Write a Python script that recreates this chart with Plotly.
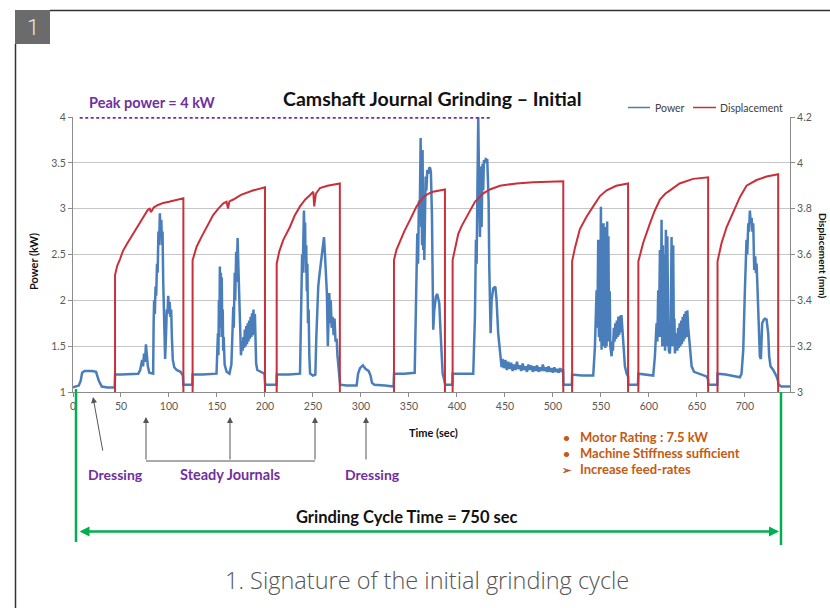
import plotly.graph_objects as go

# ---------------- data ----------------
x_tick_vals = [0, 50, 100, 150, 200, 250, 300, 350, 400, 450, 500, 550, 600, 650, 700]
power_tick_vals = [1, 1.5, 2, 2.5, 3, 3.5, 4]
disp_tick_vals = [3, 3.2, 3.4, 3.6, 3.8, 4, 4.2]
disp_tick_text = ["3", "3.2", "3.4", "3.6", "3.8", "4", "4.2"]

peak_line_t = [7, 436]
peak_line_kw = [4, 4]

# Power (kW) samples: (time s, power kW)
power_pre = [(0, 1.05), (3, 1.06), (6, 1.07), (8, 1.12), (9.5, 1.21), (12, 1.23), (20, 1.23),
             (24, 1.22), (27, 1.12), (30, 1.06), (36, 1.05), (43.4, 1.05)]
power_c1 = [(43.8, 1.19), (50, 1.19), (60, 1.2), (68, 1.2), (70, 1.24), (72, 1.35), (73, 1.28),
            (74, 1.42), (75, 1.33), (76, 1.52), (77, 1.4), (78, 1.28), (79.5, 1.21), (83.5, 1.2),
            (84, 1.75), (84.5, 2.0), (85.3, 1.85), (86, 2.15), (86.7, 2.05), (87.5, 2.4), (88.2, 2.3),
            (89, 2.75), (89.7, 2.6), (90.5, 2.95), (91.2, 2.7), (92, 2.88), (92.7, 2.6), (93.3, 2.75),
            (94, 2.2), (94.7, 1.8), (95.5, 1.5), (96, 1.36), (97, 1.65), (97.7, 1.9), (98.5, 1.85),
            (99.2, 2.05), (100, 1.9), (100.7, 1.98), (101.5, 1.82), (102.3, 1.9), (103, 1.6),
            (104, 1.35), (105.5, 1.27), (108, 1.24), (112, 1.22), (114.5, 1.18)]
power_gap1 = [(115, 1.08), (124.3, 1.08)]
power_c2 = [(124.6, 1.19), (135, 1.19), (149.5, 1.2), (150.5, 1.45), (151, 1.64), (151.5, 1.4),
            (152, 2.0), (152.5, 1.6), (153, 2.37), (153.5, 1.7), (154, 2.3), (154.5, 1.8), (155, 2.25),
            (155.5, 1.6), (156, 1.9), (156.5, 1.45), (157, 1.6), (158, 1.3), (160, 1.22), (163, 1.2),
            (165, 1.3), (166, 1.6), (167, 1.93), (167.5, 1.7), (168.5, 2.3), (169, 2.0), (170, 2.53),
            (170.5, 2.2), (171.5, 2.68), (172.5, 2.3), (173.5, 2.0), (174.5, 1.6), (175, 1.4),
            (176, 1.55), (176.7, 1.45), (177.5, 1.6), (178.3, 1.48), (179, 1.68), (179.8, 1.5),
            (180.5, 1.72), (181.3, 1.52), (182, 1.75), (182.8, 1.55), (183.5, 1.78), (184.3, 1.58),
            (185, 1.82), (185.8, 1.6), (186.5, 1.86), (187.3, 1.62), (188, 1.9), (188.7, 1.7),
            (189.5, 1.85), (190.3, 1.5), (190.8, 1.31), (192, 1.24), (196, 1.22), (199.5, 1.2)]
power_gap2 = [(200.2, 1.08), (212, 1.08)]
power_c3 = [(212.3, 1.19), (225, 1.19), (236.5, 1.2), (237.2, 1.6), (238, 2.0), (238.7, 2.5),
            (239.3, 2.3), (240, 2.85), (240.6, 2.98), (241.2, 2.7), (241.8, 2.85), (242.4, 2.3),
            (243, 2.6), (243.6, 2.1), (244.2, 2.4), (244.8, 1.75), (245.5, 1.9), (246.2, 1.4),
            (247, 1.2), (250, 1.18), (252.5, 1.19), (253.5, 1.6), (254.5, 1.9), (255.5, 2.15),
            (257, 2.3), (259, 2.48), (260, 2.55), (261.5, 2.69), (262.5, 2.5), (263.5, 2.3),
            (264.5, 2.08), (265.5, 1.5), (266.3, 1.9), (267, 2.08), (268, 1.75), (268.5, 2.0),
            (269.5, 1.7), (270.5, 1.82), (271.5, 1.62), (272.5, 1.8), (273.5, 1.55), (274.7, 1.58),
            (275.5, 1.4), (276.4, 1.3), (277.5, 1.15)]
power_dress2 = [(278.3, 1.08), (285, 1.07), (295.5, 1.07), (297, 1.2), (299, 1.26), (302, 1.29),
                (305, 1.25), (308, 1.23), (310, 1.18), (311.5, 1.1), (314, 1.08), (325, 1.07),
                (334, 1.06)]
power_c4 = [(334.5, 1.2), (345, 1.2), (356, 1.21), (357.3, 1.93), (358.7, 2.73), (359.5, 2.4),
            (360.4, 3.09), (361.2, 2.9), (362.2, 3.77), (362.8, 2.8), (363.2, 3.09), (363.7, 2.6),
            (364.2, 3.64), (364.9, 2.55), (365.5, 2.9), (366, 2.44), (366.7, 3.0), (367.4, 3.35),
            (368.2, 3.2), (369.1, 3.42), (370, 3.38), (371.2, 3.45), (372.2, 3.44), (372.9, 3.39),
            (374, 2.91), (374.7, 2.08), (375.3, 1.68), (376.4, 1.89), (378.1, 2.04), (379.5, 2.07),
            (380.5, 2.02), (381.6, 1.97), (383, 1.64), (384, 1.35), (385.1, 1.2), (387, 1.12)]
power_gap4 = [(387.8, 1.08), (395.2, 1.08)]
power_c5 = [(395.5, 1.2), (405, 1.2), (417, 1.2), (418.75, 1.82), (419.8, 2.66), (420.5, 2.4),
            (421.2, 3.09), (421.7, 2.9), (422.2, 4.0), (422.8, 3.5), (423.3, 3.24), (424, 2.69),
            (424.5, 3.1), (425, 3.46), (425.7, 2.8), (426.7, 3.49), (427.4, 3.2), (428.1, 3.53),
            (429, 3.5), (430, 3.54), (431.6, 3.53), (432.3, 3.35), (433, 3.09), (433.7, 2.36),
            (434.4, 1.93), (435.1, 1.64), (436.1, 2.0), (437.8, 2.13), (440, 2.15), (441.3, 2.0),
            (443, 1.64), (444.8, 1.42), (446.5, 1.27), (447.5, 1.36), (449, 1.26), (450.5, 1.35),
            (452, 1.24), (453.5, 1.33), (455, 1.25), (456.5, 1.32), (458, 1.23), (459.5, 1.3),
            (461, 1.24), (462.5, 1.33), (464, 1.25), (465.5, 1.29), (467, 1.23), (468.5, 1.31),
            (470, 1.24), (471.5, 1.28), (473, 1.22), (474.5, 1.3), (476, 1.24), (477.5, 1.29),
            (479, 1.22), (480.5, 1.28), (482, 1.23), (483.5, 1.29), (485, 1.22), (486.5, 1.27),
            (488, 1.23), (489.5, 1.3), (491, 1.23), (492.5, 1.27), (494, 1.22), (495.5, 1.28),
            (497, 1.22), (498.5, 1.26), (500, 1.21), (501.5, 1.27), (503, 1.22), (504.5, 1.25),
            (506, 1.21), (507.5, 1.26), (509, 1.22), (510.5, 1.25)]
power_gap5 = [(511, 1.08), (519.8, 1.08)]
power_c6 = [(520, 1.19), (530, 1.18), (542, 1.18), (543.75, 1.49), (544.5, 1.8), (545.5, 2.11),
            (546.3, 1.7), (547.2, 2.66), (547.9, 1.6), (548.5, 2.5), (549.2, 1.55), (550, 3.02),
            (550.7, 1.46), (551.4, 2.75), (552, 1.5), (552.7, 2.84), (553.3, 1.5), (554, 2.6),
            (554.6, 1.48), (555.2, 2.8), (555.9, 1.5), (556.5, 2.86), (557.2, 1.55), (557.8, 2.7),
            (558.5, 1.6), (559.2, 2.1), (559.8, 1.5), (560.5, 1.42), (561.1, 1.39), (562, 1.55),
            (562.5, 1.45), (563.5, 1.7), (564.2, 1.55), (565, 1.75), (565.8, 1.58), (566.6, 1.78),
            (567.4, 1.6), (568.2, 1.82), (569, 1.62), (569.8, 1.83), (570.6, 1.65), (571.4, 1.84),
            (572.2, 1.7), (573.3, 1.55), (574.2, 1.4), (575, 1.28), (576.8, 1.2), (578.3, 1.17)]
power_gap6 = [(578.6, 1.08), (588.6, 1.08)]
power_c7 = [(589, 1.2), (600, 1.18), (604.5, 1.18), (606.25, 1.39), (607, 1.6), (608, 1.75),
            (608.8, 1.55), (609.7, 2.11), (610.4, 1.6), (611.5, 2.55), (612.2, 1.6), (613.2, 2.88),
            (613.9, 1.5), (614.6, 2.6), (615.3, 1.5), (616, 2.5), (616.8, 1.45), (617.7, 2.77),
            (618.4, 1.5), (619.2, 2.7), (620.1, 1.75), (620.8, 1.45), (621.9, 1.42), (622.7, 1.7),
            (623.6, 2.69), (624.3, 1.5), (625.3, 2.6), (626, 1.6), (626.6, 1.8), (627.1, 1.42),
            (628, 1.55), (628.8, 1.64), (629.6, 1.45), (630.4, 1.7), (631.2, 1.48), (632, 1.75),
            (632.8, 1.5), (633.6, 1.78), (634.4, 1.52), (635.2, 1.82), (636, 1.55), (636.8, 1.85),
            (637.6, 1.58), (638.4, 1.88), (639.2, 1.6), (640, 1.89), (641, 1.7), (642.7, 1.45),
            (644.5, 1.28), (647, 1.22), (652, 1.2), (660, 1.17), (661.6, 1.14)]
power_gap7 = [(661.9, 1.08), (671.3, 1.08)]
power_c8 = [(671.5, 1.2), (680, 1.19), (690, 1.17), (694.8, 1.16), (696.5, 1.2), (698.3, 1.46),
            (700, 2.11), (701.7, 2.66), (702.5, 2.5), (703.5, 2.84), (704.3, 2.75), (705.2, 2.98),
            (706, 2.85), (707, 2.9), (707.8, 2.75), (708.7, 2.84), (709.7, 2.33), (710.8, 2.48),
            (711.5, 2.3), (712.2, 2.4), (713.2, 2.11), (714.6, 1.64), (715.6, 1.39), (716.7, 1.36),
            (718, 1.75), (719.8, 1.79), (721, 1.8), (722.6, 1.79), (724.3, 1.64), (725.3, 1.39),
            (726.7, 1.28), (729.5, 1.24), (733, 1.17), (734.5, 1.12)]
power_post = [(735, 1.08), (738, 1.06), (747, 1.06)]

# Displacement (mm) samples: (time s, displacement mm); 2.97 = below axis (retracted)
disp_pre = [(0, 2.97), (43.8, 2.97)]
disp_c1 = [(43.8, 3.51), (46, 3.55), (49, 3.58), (52, 3.615), (56, 3.645), (62.5, 3.69), (70, 3.745),
           (75, 3.78), (78, 3.795), (80, 3.8), (81, 3.785), (82, 3.79), (84, 3.805), (88, 3.815),
           (94, 3.825), (100, 3.83), (105, 3.835), (110, 3.84), (115, 3.845)]
disp_gap1 = [(115, 2.97), (124.6, 2.97)]
disp_c2 = [(124.6, 3.575), (128.8, 3.634), (134, 3.678), (139.2, 3.72), (146, 3.772), (151.4, 3.8),
           (156.6, 3.823), (160, 3.83), (161.5, 3.8), (163, 3.832), (167, 3.84), (175, 3.86),
           (188, 3.88), (200, 3.893)]
disp_gap2 = [(200, 2.97), (212.2, 2.97)]
disp_c3 = [(212.2, 3.56), (215, 3.615), (219, 3.663), (226, 3.72), (231, 3.77), (236.5, 3.81),
           (242, 3.84), (247, 3.86), (250.3, 3.874), (251.3, 3.81), (253, 3.865), (257.3, 3.89),
           (265, 3.9), (278, 3.91)]
disp_gap3 = [(278, 2.97), (334.4, 2.97)]
disp_c4 = [(334.4, 3.576), (337, 3.62), (340.6, 3.66), (345, 3.7), (351, 3.75), (358, 3.81),
           (365, 3.85), (370, 3.865), (375, 3.874), (381, 3.88), (387.5, 3.884)]
disp_gap4 = [(387.5, 2.97), (395.5, 2.97)]
disp_c5 = [(395.5, 3.576), (398, 3.63), (401.4, 3.69), (405, 3.725), (410, 3.765), (418.75, 3.83),
           (427.4, 3.867), (435, 3.885), (444.8, 3.9), (462, 3.91), (479.5, 3.915), (495, 3.918),
           (510.8, 3.92)]
disp_gap5 = [(510.8, 2.97), (520, 2.97)]
disp_c6 = [(520, 3.57), (523, 3.63), (528, 3.71), (535, 3.765), (542, 3.81), (549, 3.855),
           (556, 3.88), (566, 3.9), (578.3, 3.91)]
disp_gap6 = [(578.3, 2.97), (589, 2.97)]
disp_c7 = [(589, 3.57), (591.5, 3.61), (594, 3.65), (601, 3.735), (606, 3.79), (611.5, 3.84),
           (617, 3.865), (622, 3.88), (632, 3.91), (646, 3.93), (661.7, 3.937)]
disp_gap7 = [(661.7, 2.97), (671.5, 2.97)]
disp_c8 = [(671.5, 3.57), (673.5, 3.61), (675.7, 3.65), (681, 3.72), (688, 3.79), (694.8, 3.85),
           (701.7, 3.9), (712.2, 3.925), (722.6, 3.94), (734.7, 3.95)]
disp_post = [(734.7, 2.97), (747, 2.97)]

power_segments = [power_pre, power_c1, power_gap1, power_c2, power_gap2, power_c3, power_dress2,
                  power_c4, power_gap4, power_c5, power_gap5, power_c6, power_gap6, power_c7,
                  power_gap7, power_c8, power_post]
disp_segments = [disp_pre, disp_c1, disp_gap1, disp_c2, disp_gap2, disp_c3, disp_gap3, disp_c4,
                 disp_gap4, disp_c5, disp_gap5, disp_c6, disp_gap6, disp_c7, disp_gap7, disp_c8,
                 disp_post]

power_time = [p[0] for seg in power_segments for p in seg]
power_kw = [p[1] for seg in power_segments for p in seg]
disp_time = [p[0] for seg in disp_segments for p in seg]
disp_mm = [p[1] for seg in disp_segments for p in seg]

# ---------------- layout geometry (pixels) ----------------
W, H = 830, 608
PL, PR, PT, PB = 73, 790, 117, 392  # plot area


def xp(px):
    return (px - PL) / (PR - PL)


def yp(py):
    return (PB - py) / (PB - PT)


BLUE = "#4a7ebb"
RED = "#c9303a"
PURPLE = "#7030a0"
GREEN = "#00b050"
ORANGE = "#c55a11"
ARROW = "#555555"
FONT = "Lato"

fig = go.Figure()
fig.add_trace(go.Scatter(x=power_time, y=power_kw, mode="lines", name="Power",
                         line=dict(color=BLUE, width=2.5), yaxis="y"))
fig.add_trace(go.Scatter(x=disp_time, y=disp_mm, mode="lines", name="Displacement",
                         line=dict(color=RED, width=2), yaxis="y2"))
fig.add_trace(go.Scatter(x=peak_line_t, y=peak_line_kw, mode="lines", name="Peak",
                         line=dict(color=PURPLE, width=3.5, dash="3px,2.5px"), yaxis="y"))

axis_common = dict(showline=True, linecolor="#8c8c8c", linewidth=1, ticks="outside", ticklen=4,
                   tickcolor="#8c8c8c", tickfont=dict(family=FONT, size=10.5, color="#595959"),
                   zeroline=False)

fig.update_layout(
    width=W, height=H,
    margin=dict(l=PL, r=W - PR, t=PT, b=H - PB),
    paper_bgcolor="white", plot_bgcolor="white",
    showlegend=False,
    xaxis=dict(range=[0, 747], tickvals=x_tick_vals, showgrid=False, **axis_common),
    yaxis=dict(range=[1, 4], tickvals=power_tick_vals, showgrid=True, gridcolor="#c6c6c6",
               gridwidth=1, **axis_common),
    yaxis2=dict(range=[3, 4.2], tickvals=disp_tick_vals, ticktext=disp_tick_text, overlaying="y",
                side="right", showgrid=False, **axis_common),
)

shapes = []
annotations = []


def line(x0, y0, x1, y1, color, width):
    shapes.append(dict(type="line", xref="paper", yref="paper", x0=xp(x0), y0=yp(y0),
                       x1=xp(x1), y1=yp(y1), line=dict(color=color, width=width)))


def text(x, y, s, size, color, bold=False, xanchor="center", angle=0, family=FONT, weight=None):
    f = dict(family=family, size=size, color=color)
    if weight is not None:
        f["weight"] = weight
    annotations.append(dict(xref="paper", yref="paper", x=xp(x), y=yp(y), text=f"<b>{s}</b>" if bold else s,
                            showarrow=False, xanchor=xanchor, yanchor="middle", textangle=angle, font=f))


def arrow(xh, yh, xt, yt, color, width, head=2, size=1.0):
    annotations.append(dict(xref="paper", yref="paper", x=xp(xh), y=yp(yh), ax=xt - xh, ay=yt - yh,
                            axref="pixel", ayref="pixel", text="", showarrow=True, arrowhead=head,
                            arrowsize=size, arrowwidth=width, arrowcolor=color))


# frame and badge
line(50, 10.5, 830, 10.5, "#333333", 1.5)
line(15.5, 44, 15.5, 608, "#333333", 1.5)
shapes.append(dict(type="rect", xref="paper", yref="paper", x0=xp(15), x1=xp(50), y0=yp(10), y1=yp(44),
                   fillcolor="#6b6b6b", line=dict(width=0)))
text(32.5, 27.5, "1", 22, "#e6e6e6", family="Roboto", weight=300)

# titles
text(432, 98, "Camshaft Journal Grinding – Initial", 19.5, "#111111", bold=True)
text(152, 102, "Peak power = 4 kW", 14.5, PURPLE, bold=True)

# legend
line(628, 107.5, 650, 107.5, BLUE, 1.5)
text(653, 107.5, "Power", 10.5, "#404040", xanchor="left")
line(693, 107.5, 716, 107.5, RED, 1.5)
text(718, 107.5, "Displacement", 10.5, "#404040", xanchor="left")

# axis titles
text(433, 432, "Time (sec)", 11, "#111111", bold=True)
text(33, 262, "Power (kW)", 11, "#111111", bold=True, angle=-90)
text(823, 255, "Displacement (mm)", 10, "#111111", bold=True, angle=90)

# dressing / steady journals annotations
arrow(93, 397, 103, 452, ARROW, 1, head=2, size=1.2)
text(115, 474, "Dressing", 14, PURPLE, bold=True)
line(146, 461, 315, 461, ARROW, 1)
arrow(146, 417, 146, 461, ARROW, 1, head=2, size=1.2)
arrow(230, 417, 230, 461, ARROW, 1, head=2, size=1.2)
arrow(315, 417, 315, 461, ARROW, 1, head=2, size=1.2)
text(230, 474, "Steady Journals", 14.5, PURPLE, bold=True)
arrow(366, 417, 366, 461, ARROW, 1, head=2, size=1.2)
text(372, 474, "Dressing", 14, PURPLE, bold=True)

# notes
text(566, 437, "•", 12, ORANGE, bold=True)
text(578, 437, "Motor Rating : 7.5 kW", 13, ORANGE, bold=True, xanchor="left")
text(566, 453, "•", 12, ORANGE, bold=True)
text(578, 453, "Machine Stiffness sufficient", 13, ORANGE, bold=True, xanchor="left")
text(567, 469, "➢", 11, ORANGE, bold=True)
text(578, 469, "Increase feed-rates", 13, ORANGE, bold=True, xanchor="left")

# grinding cycle time
line(76, 389, 76, 542, GREEN, 2.5)
line(781, 392, 781, 545, GREEN, 2.5)
annotations.append(dict(xref="paper", yref="paper", x=xp(779), y=yp(531.5), ax=-(779 - 78), ay=0,
                        axref="pixel", ayref="pixel", text="", showarrow=True, arrowhead=2,
                        startarrowhead=2, arrowside="end+start", arrowsize=0.8, startarrowsize=0.8,
                        arrowwidth=2.5, arrowcolor=GREEN))
text(407, 517, "Grinding Cycle Time = 750 sec", 16.5, "#111111", bold=True)

# caption
text(427, 580, "1. Signature of the initial grinding cycle", 23.5, "#555555", family="Open Sans", weight=300)

fig.update_layout(shapes=shapes, annotations=annotations)
fig.write_html("out.html", config={"displayModeBar": False},
               post_script="document.body.style.margin='0px';")
